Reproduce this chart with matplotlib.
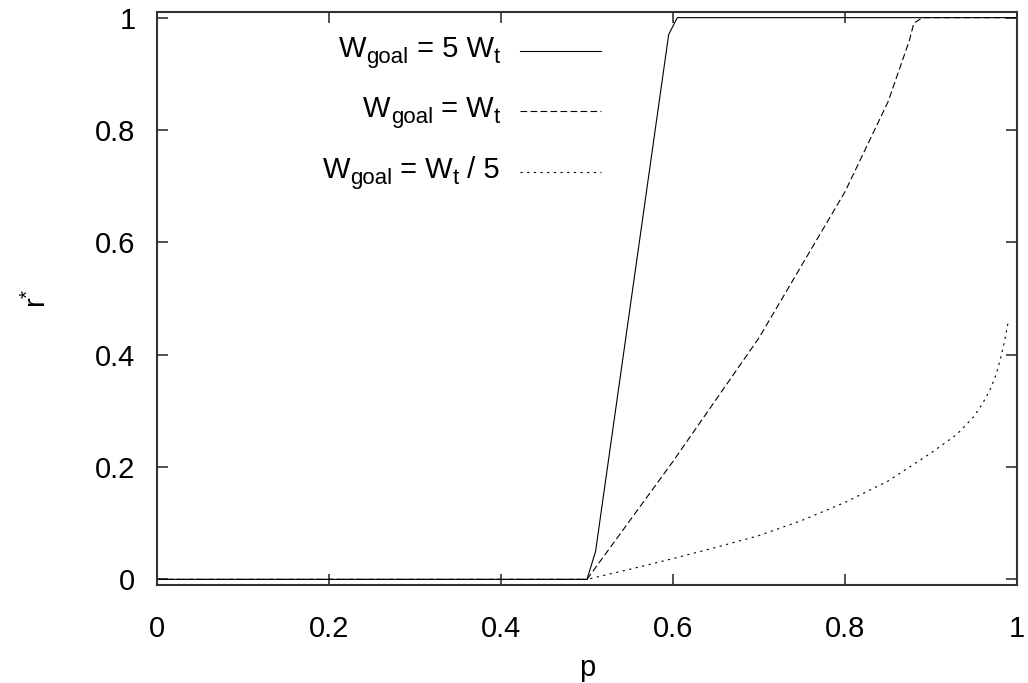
import matplotlib
matplotlib.use('Agg')
import matplotlib.pyplot as plt
from matplotlib.lines import Line2D

plt.rcParams['font.family'] = ['Liberation Sans', 'DejaVu Sans']
plt.rcParams['mathtext.fontset'] = 'custom'
plt.rcParams['mathtext.rm'] = 'Liberation Sans'
plt.rcParams['mathtext.it'] = 'Liberation Sans'

# r* vs p for three goal widths
p_5wt = [0.0, 0.5, 0.51, 0.595, 0.605, 1.0]
r_5wt = [0.0, 0.0, 0.05, 0.97, 1.0, 1.0]

p_wt = [0.0, 0.5, 0.55, 0.6, 0.65, 0.7, 0.75, 0.8, 0.85, 0.875, 0.88, 0.89, 1.0]
r_wt = [0.0, 0.0, 0.105, 0.21, 0.32, 0.43, 0.56, 0.69, 0.85, 0.96, 0.99, 1.0, 1.0]

p_wt5 = [0.0, 0.5, 0.55, 0.6, 0.65, 0.7, 0.75, 0.8, 0.85, 0.9, 0.93, 0.95, 0.96,
         0.97, 0.975, 0.98, 0.985, 0.99]
r_wt5 = [0.0, 0.0, 0.018, 0.037, 0.057, 0.078, 0.105, 0.137, 0.175, 0.225, 0.258,
         0.29, 0.313, 0.342, 0.362, 0.388, 0.42, 0.46]

# key labels as (text, is_subscript) pieces
labels = [[('W', False), ('goal', True), (' = 5 W', False), ('t', True)],
          [('W', False), ('goal', True), (' = W', False), ('t', True)],
          [('W', False), ('goal', True), (' = W', False), ('t', True), (' / 5', False)]]
ticks = [0, 0.2, 0.4, 0.6, 0.8, 1]
tick_labels = ['0', '0.2', '0.4', '0.6', '0.8', '1']

styles = ['-', (0, (6, 3)), (0, (2, 4))]

FS = 21
FS_SUB = 16


def key_text(ax, x, yb, pieces):
    # right-aligned, built from the right end leftwards
    nxt = None
    nxt_sub = None
    for txt, sub in reversed(pieces):
        fs = FS_SUB if sub else FS
        if nxt is None:
            dy = -4.2 if sub else 0
            nxt = ax.annotate(txt, xy=(x, yb), xycoords='axes fraction',
                              xytext=(0, dy), textcoords='offset points',
                              ha='right', va='baseline', fontsize=fs)
        else:
            dy = 0
            if sub and not nxt_sub:
                dy = -3.2
            elif not sub and nxt_sub:
                dy = 3.2
            nxt = ax.annotate(txt, xy=(0, 0), xycoords=nxt,
                              xytext=(0, dy), textcoords='offset points',
                              ha='right', va='bottom', fontsize=fs)
        nxt_sub = sub


fig = plt.figure(figsize=(10.28, 6.83), dpi=100)
ax = fig.add_axes([0.1527, 0.1435, 0.8366, 0.8389])

series = [(p_5wt, r_5wt), (p_wt, r_wt), (p_wt5, r_wt5)]
for (px, ry), ls in zip(series, styles):
    ax.plot(px, ry, color='black', lw=0.8, linestyle=ls)

ax.set_xlim(0, 1)
ax.set_ylim(-0.01, 1.01)
ax.set_xticks(ticks)
ax.set_xticklabels(tick_labels)
ax.set_yticks(ticks)
ax.set_yticklabels(tick_labels)
ax.tick_params(direction='in', length=8, width=1.2, top=True, right=True,
               labelsize=FS, color='#333333')
ax.tick_params(axis='x', pad=21.5)
ax.tick_params(axis='y', pad=15.5)
for s in ax.spines.values():
    s.set_linewidth(1.5)
    s.set_color('#333333')

ax.set_xlabel('p', fontsize=FS, labelpad=8)
ax.set_ylabel(r'r$^{*}$', fontsize=FS, labelpad=31)

# gnuplot-style key: right-aligned text, sample line to the right
line_y = [0.932, 0.827, 0.721]
base_y = [0.9215, 0.8168, 0.710]
for lab, ls, yl, yb in zip(labels, styles, line_y, base_y):
    key_text(ax, 0.3986, yb, lab)
    ax.add_line(Line2D([0.4218, 0.516], [yl, yl], transform=ax.transAxes,
                       color='black', lw=0.8, linestyle=ls))

fig.savefig('out.png', dpi=100)
